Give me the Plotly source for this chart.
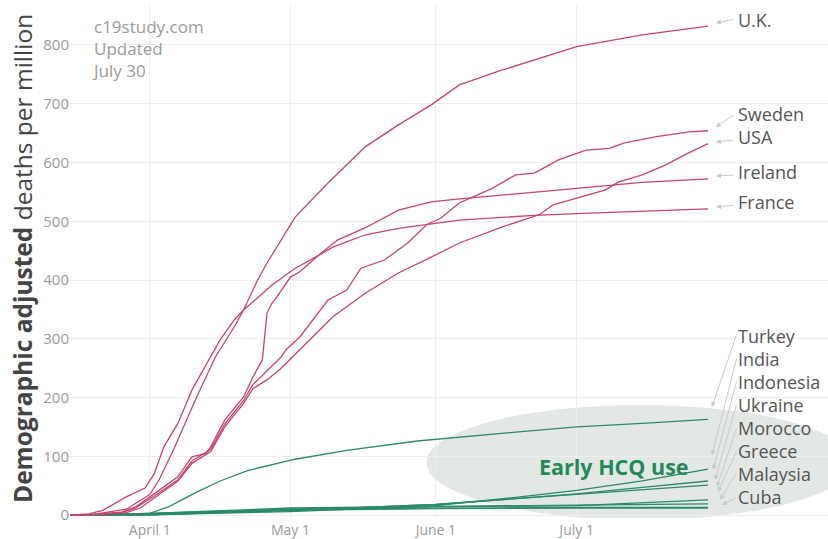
import plotly.graph_objects as go

# ---------------- data ----------------
uk_dates = ["2020-03-15", "2020-03-20", "2020-03-27", "2020-04-01", "2020-04-03", "2020-04-06",
            "2020-04-11", "2020-04-15", "2020-04-19", "2020-04-21", "2020-04-24", "2020-04-26",
            "2020-05-02", "2020-05-09", "2020-05-17", "2020-05-24", "2020-05-31", "2020-06-06",
            "2020-06-15", "2020-06-22", "2020-07-01", "2020-07-15", "2020-07-29"]
uk_values = [0, 1, 10, 35, 60, 110, 201, 269, 320, 349, 400, 429, 507, 565, 627, 664, 698, 732,
             757, 774, 797, 817, 832]

france_dates = ["2020-03-15", "2020-03-19", "2020-03-22", "2020-03-27", "2020-03-31", "2020-04-02",
                "2020-04-04", "2020-04-07", "2020-04-10", "2020-04-12", "2020-04-16", "2020-04-19",
                "2020-04-21", "2020-04-27", "2020-05-02", "2020-05-07", "2020-05-10", "2020-05-17",
                "2020-05-24", "2020-06-06", "2020-06-22", "2020-07-01", "2020-07-15", "2020-07-29"]
france_values = [0, 2, 8, 31, 46, 71, 116, 156, 213, 241, 298, 332, 349, 391, 420, 442, 456, 477,
                 488, 502, 510, 513, 517, 521]

ireland_dates = ["2020-03-15", "2020-03-20", "2020-03-26", "2020-03-29", "2020-04-03", "2020-04-07",
                 "2020-04-10", "2020-04-13", "2020-04-14", "2020-04-17", "2020-04-21", "2020-04-23",
                 "2020-04-25", "2020-04-26", "2020-04-27", "2020-04-28", "2020-05-01", "2020-05-03",
                 "2020-05-07", "2020-05-11", "2020-05-17", "2020-05-24", "2020-05-31", "2020-06-06",
                 "2020-07-01", "2020-07-15", "2020-07-29"]
ireland_values = [0, 1, 5, 14, 42, 65, 99, 105, 116, 162, 201, 235, 264, 344, 360, 370, 405, 414,
                  442, 468, 489, 519, 533, 538, 556, 566, 572]

sweden_dates = ["2020-03-15", "2020-03-20", "2020-03-26", "2020-03-29", "2020-04-03", "2020-04-07",
                "2020-04-10", "2020-04-14", "2020-04-17", "2020-04-21", "2020-04-23", "2020-04-26",
                "2020-04-29", "2020-04-30", "2020-05-03", "2020-05-09", "2020-05-13", "2020-05-16",
                "2020-05-21", "2020-05-26", "2020-05-30", "2020-06-02", "2020-06-06", "2020-06-13",
                "2020-06-18", "2020-06-22", "2020-06-27", "2020-07-03", "2020-07-08", "2020-07-11",
                "2020-07-18", "2020-07-25", "2020-07-29"]
sweden_values = [0, 1, 4, 12, 38, 60, 92, 112, 155, 195, 222, 245, 269, 281, 303, 366, 383, 420,
                 434, 463, 494, 505, 531, 556, 579, 582, 604, 621, 624, 633, 644, 652, 654]

usa_dates = ["2020-03-15", "2020-03-22", "2020-03-27", "2020-03-30", "2020-04-03", "2020-04-07",
             "2020-04-10", "2020-04-14", "2020-04-17", "2020-04-21", "2020-04-23", "2020-04-26",
             "2020-04-29", "2020-05-03", "2020-05-10", "2020-05-17", "2020-05-24", "2020-05-31",
             "2020-06-03", "2020-06-06", "2020-06-15", "2020-06-23", "2020-06-26", "2020-07-02",
             "2020-07-07", "2020-07-10", "2020-07-15", "2020-07-20", "2020-07-24", "2020-07-29"]
usa_values = [0, 1, 4, 12, 35, 58, 88, 108, 150, 190, 215, 230, 250, 281, 337, 378, 412, 439,
              451, 463, 490, 511, 528, 541, 553, 567, 579, 596, 613, 632]

turkey_dates = ["2020-03-15", "2020-03-28", "2020-04-01", "2020-04-05", "2020-04-11", "2020-04-16",
                "2020-04-22", "2020-05-02", "2020-05-13", "2020-05-28", "2020-06-18", "2020-07-01",
                "2020-07-15", "2020-07-29"]
turkey_values = [0, 0.5, 3, 14, 39, 58, 76, 95, 110, 126, 141, 150, 156, 163]

india_dates = ["2020-03-15", "2020-04-01", "2020-05-01", "2020-06-01", "2020-06-18", "2020-07-01",
               "2020-07-15", "2020-07-29"]
india_values = [0, 0.5, 6, 16, 30, 42, 58, 78]

indonesia_dates = ["2020-03-15", "2020-04-01", "2020-05-01", "2020-06-01", "2020-06-18", "2020-07-01",
                   "2020-07-15", "2020-07-29"]
indonesia_values = [0, 0.5, 8, 18, 28, 36, 47, 58]

ukraine_dates = ["2020-03-15", "2020-04-01", "2020-05-01", "2020-06-01", "2020-06-18", "2020-07-01",
                 "2020-07-15", "2020-07-29"]
ukraine_values = [0, 0.5, 8, 18, 28, 35, 43, 51]

morocco_dates = ["2020-03-15", "2020-04-01", "2020-05-01", "2020-06-01", "2020-07-01", "2020-07-29"]
morocco_values = [0, 2, 10, 14, 16, 26]

greece_dates = ["2020-03-15", "2020-04-01", "2020-05-01", "2020-06-01", "2020-07-01", "2020-07-29"]
greece_values = [0, 3, 12, 15, 17, 19]

malaysia_dates = ["2020-03-15", "2020-04-01", "2020-05-01", "2020-06-01", "2020-07-01", "2020-07-29"]
malaysia_values = [0, 3, 10, 12, 13, 13]

cuba_dates = ["2020-03-15", "2020-04-01", "2020-05-01", "2020-06-01", "2020-07-01", "2020-07-29"]
cuba_values = [0, 1, 8, 11, 12, 12]

red_countries = ["U.K.", "Sweden", "USA", "Ireland", "France"]
green_countries = ["Turkey", "India", "Indonesia", "Ukraine", "Morocco", "Greece", "Malaysia", "Cuba"]

x_tick_vals = ["2020-04-01", "2020-05-01", "2020-06-01", "2020-07-01"]
x_tick_text = ["April 1", "May 1", "June 1", "July 1"]
y_tick_vals = [0, 100, 200, 300, 400, 500, 600, 700, 800]

series = {
    "U.K.": (uk_dates, uk_values), "Sweden": (sweden_dates, sweden_values),
    "USA": (usa_dates, usa_values), "Ireland": (ireland_dates, ireland_values),
    "France": (france_dates, france_values), "Turkey": (turkey_dates, turkey_values),
    "India": (india_dates, india_values), "Indonesia": (indonesia_dates, indonesia_values),
    "Ukraine": (ukraine_dates, ukraine_values), "Morocco": (morocco_dates, morocco_values),
    "Greece": (greece_dates, greece_values), "Malaysia": (malaysia_dates, malaysia_values),
    "Cuba": (cuba_dates, cuba_values),
}

# ---------------- styling / layout ----------------
W, H = 828, 539
ML, MR, MT, MB = 70, 0, 5, 21
FONT = "Open Sans"
RED = "#c4456b"
GREEN = "#2a8a6a"
LABEL_COLOR = "#555555"
ARROW_COLOR = "#c9c9c9"


def px2paper(px, py):
    return (px - ML) / (W - ML - MR), (H - MB - py) / (H - MT - MB)


fig = go.Figure()

for name in green_countries + red_countries:
    d, v = series[name]
    fig.add_trace(go.Scatter(x=d, y=v, mode="lines", name=name,
                             line=dict(color=RED if name in red_countries else GREEN, width=1.3),
                             hoverinfo="skip"))

# ellipse highlighting early HCQ use
fig.add_shape(type="circle", xref="x", yref="y", x0="2020-05-30", x1="2020-08-29",
              y0=-8, y1=187, fillcolor="#e4e8e4", line=dict(width=0), layer="below")

annotations = []
# right-hand labels (pixel centre y)
label_pos = {"U.K.": 20, "Sweden": 114, "USA": 137, "Ireland": 172, "France": 202,
             "Turkey": 336, "India": 359, "Indonesia": 382, "Ukraine": 405, "Morocco": 428,
             "Greece": 451, "Malaysia": 474, "Cuba": 497}
for name, py in label_pos.items():
    x, y = px2paper(736, py)
    annotations.append(dict(x=x, y=y, xref="paper", yref="paper", text=name, showarrow=False,
                            xanchor="left", yanchor="middle",
                            font=dict(family=FONT, size=18, color=LABEL_COLOR)))

# arrows: (tail px, tail py, head px, head py)
arrows = {"U.K.": (735, 19, 716, 23), "Sweden": (735, 114, 716, 127), "USA": (735, 140, 716, 142),
          "Ireland": (735, 175, 716, 176), "France": (735, 205, 716, 207),
          "Turkey": (737, 333, 712, 407), "India": (737, 357, 712, 455),
          "Indonesia": (737, 380, 713, 470), "Ukraine": (737, 403, 715, 480),
          "Morocco": (737, 427, 717, 487), "Greece": (737, 450, 718, 492),
          "Malaysia": (737, 472, 720, 500), "Cuba": (737, 497, 722, 505)}
for name, (tx, ty, hx, hy) in arrows.items():
    x, y = px2paper(hx, hy)
    annotations.append(dict(x=x, y=y, xref="paper", yref="paper", text="", showarrow=True,
                            ax=tx - hx, ay=ty - hy, arrowhead=2, arrowsize=1, arrowwidth=1,
                            arrowcolor=ARROW_COLOR, standoff=0))

# top-left credit
x, y = px2paper(90, 13)
annotations.append(dict(x=x, y=y, xref="paper", yref="paper", xanchor="left", yanchor="top",
                        align="left", showarrow=False, text="c19study.com<br>Updated<br>July 30",
                        font=dict(family=FONT, size=17, color="#9a9a9a")))

# Early HCQ use
x, y = px2paper(614, 466)
annotations.append(dict(x=x, y=y, xref="paper", yref="paper", xanchor="center", yanchor="middle",
                        showarrow=False, text="<b>Early HCQ use</b>",
                        font=dict(family=FONT, size=21.5, color="#1f8a57")))

# y-axis title
x, y = px2paper(22, 259)
annotations.append(dict(x=x, y=y, xref="paper", yref="paper", xanchor="center", yanchor="middle",
                        showarrow=False, textangle=-90,
                        text="<b>Demographic adjusted</b> deaths per million",
                        font=dict(family=FONT, size=24.5, color="#444444")))

fig.update_layout(
    width=W, height=H, margin=dict(l=ML, r=MR, t=MT, b=MB, autoexpand=False),
    paper_bgcolor="white", plot_bgcolor="white", showlegend=False,
    annotations=annotations,
    font=dict(family=FONT),
)
fig.update_xaxes(range=["2020-03-15", "2020-08-23 14:00"], tickvals=x_tick_vals, ticktext=x_tick_text,
                 showgrid=True, gridcolor="#eeeef2", gridwidth=1, zeroline=False, showline=False,
                 ticks="", ticklabelstandoff=2, automargin=False,
                 tickfont=dict(family=FONT, size=14, color="#9a9a9a"))
fig.update_yaxes(range=[-5, 868], tickvals=y_tick_vals, showgrid=True, gridcolor="#eeeef2",
                 gridwidth=1, zeroline=False, showline=False, ticks="", automargin=False,
                 tickfont=dict(family=FONT, size=15, color="#9a9a9a"))

fig.write_html("out.html", config={"displayModeBar": False},
               post_script="document.body.style.margin='0';document.body.style.overflow='hidden';")
